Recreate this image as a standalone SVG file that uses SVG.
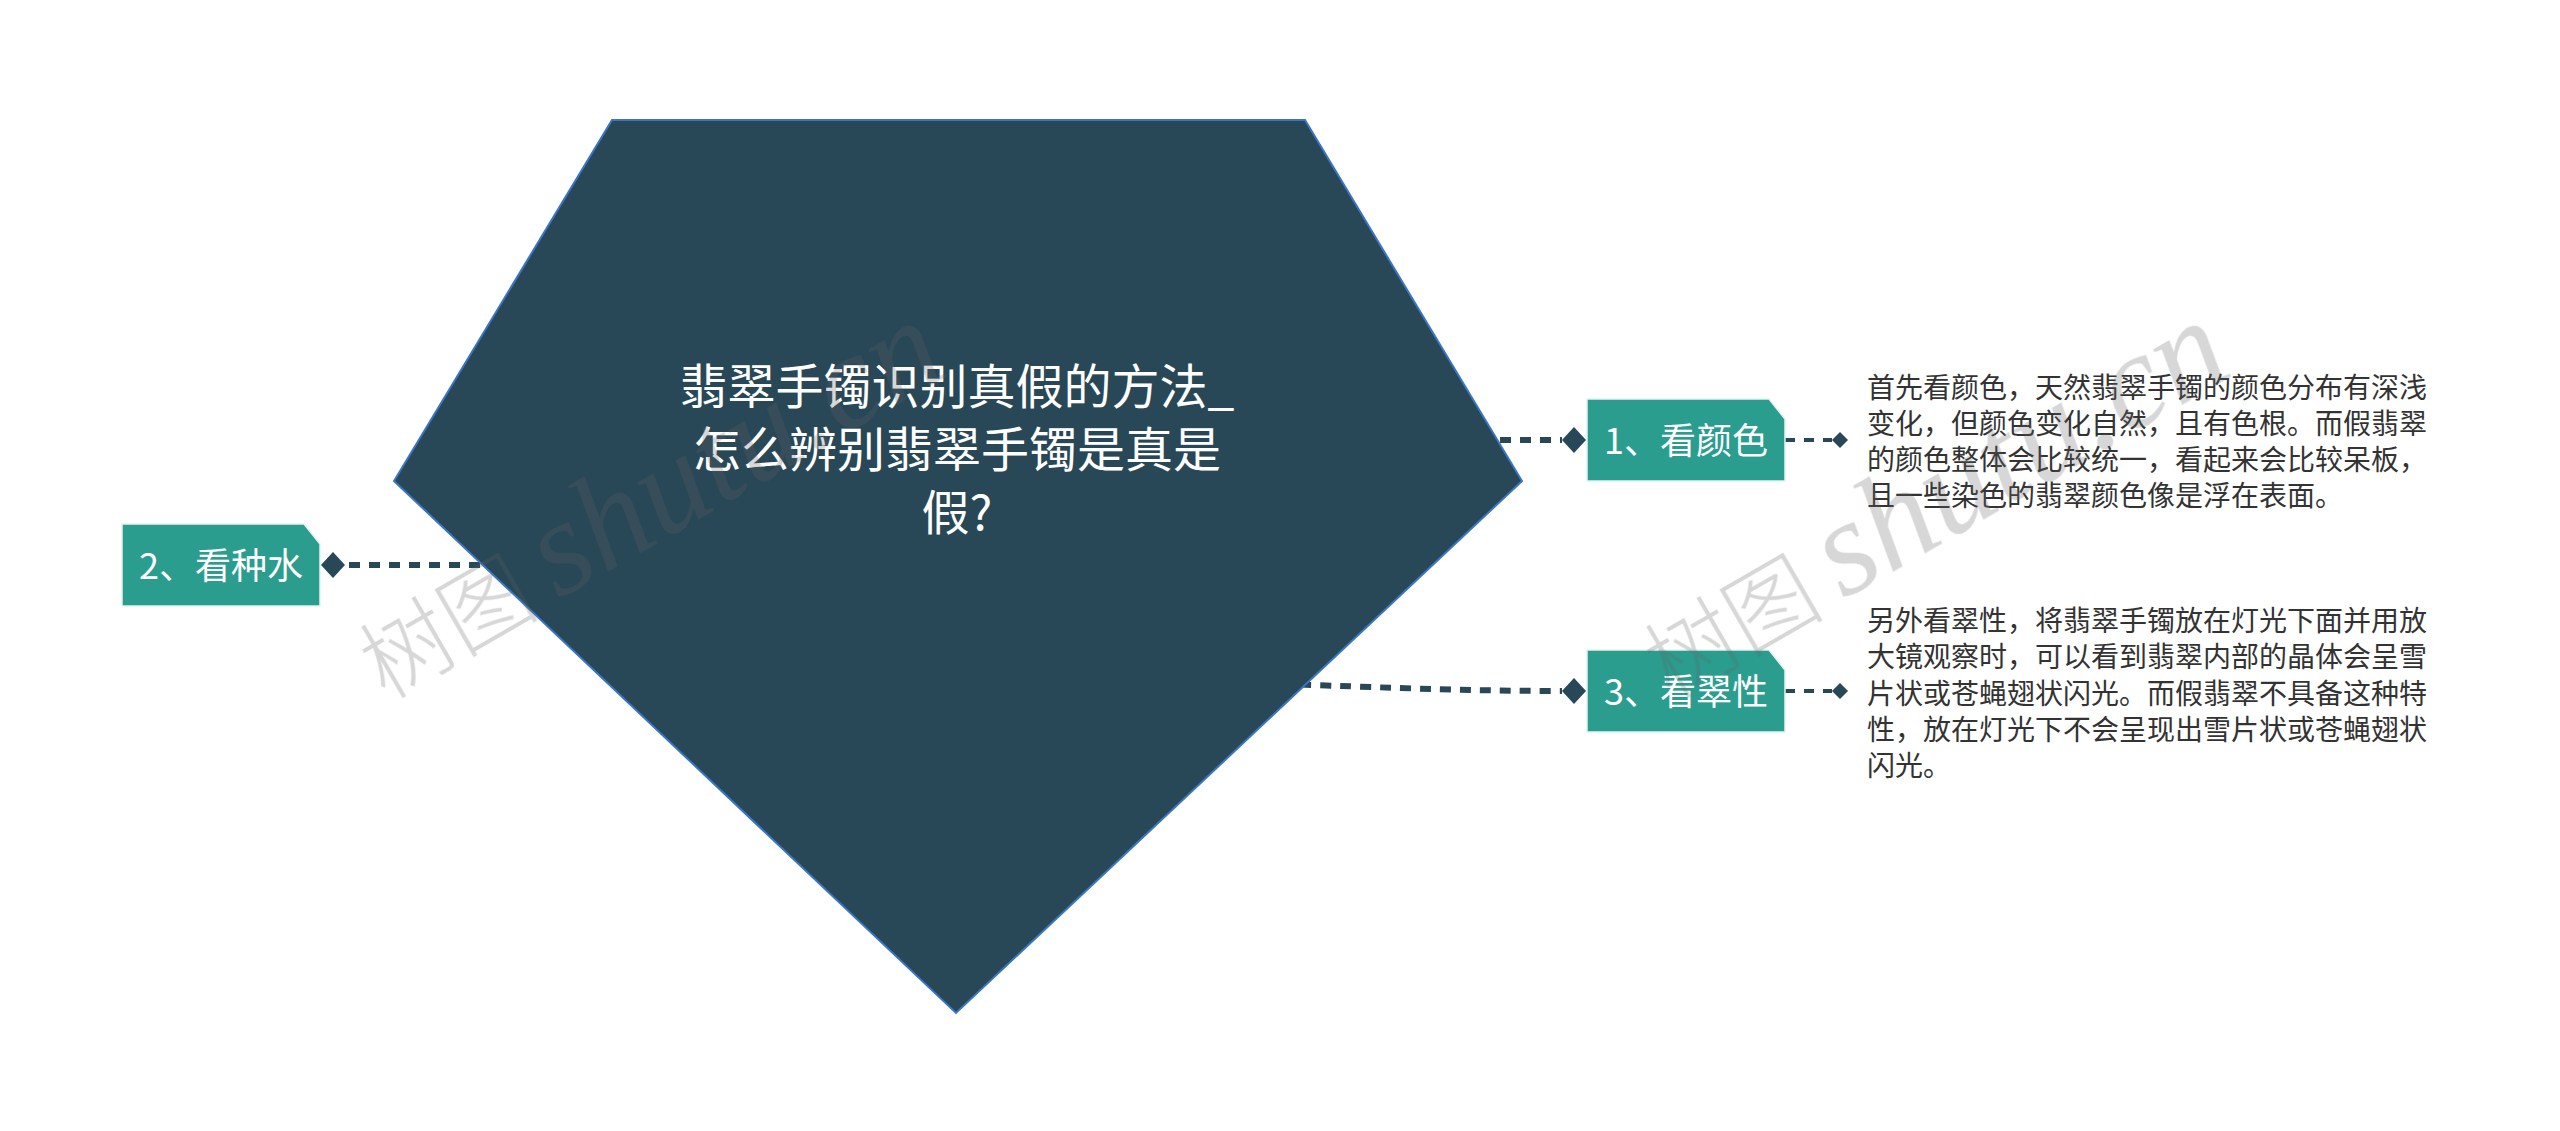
<svg xmlns="http://www.w3.org/2000/svg" xmlns:xlink="http://www.w3.org/1999/xlink" width="2560" height="1131" viewBox="0 0 2560 1131">
<style>
.conn{fill:none;stroke:#284757;stroke-width:6;stroke-dasharray:11 9}
.conn2{fill:none;stroke:#284757;stroke-width:4;stroke-dasharray:10 9}
.dia{fill:#284757}
.nodebox{fill:#2a9d8f;stroke:#e3f4f1;stroke-width:1.5}
.nodetxt{font-family:"Noto Sans CJK SC","Noto Sans",sans-serif;font-size:36px;fill:#ffffff;text-anchor:middle}
.title{font-family:"Noto Sans CJK SC","Noto Sans",sans-serif;font-size:48px;fill:#ffffff;text-anchor:middle}
.body{font-family:"Noto Sans CJK SC","Noto Sans",sans-serif;font-size:28px;fill:#333333}
.wm{fill:#666666;opacity:0.26}
.wmcjk{font-family:"Noto Sans CJK SC",sans-serif;font-size:90px;font-weight:300}
.wmlat{font-family:"Liberation Serif","Noto Sans CJK SC",serif;font-style:italic;font-size:135px}
</style>
<defs>
<path id="dl" d="M0,-13 L12,0 L0,13 L-12,0 Z"/>
<path id="ds" d="M0,-8 L8,0 L0,8 L-8,0 Z"/>
<path id="box" d="M0,0 H182 L198,20 V82 H0 Z"/>
</defs>
<rect width="2560" height="1131" fill="#ffffff"/>
<g id="connectors">
<path class="conn" d="M1380,440 H1562"/>
<path class="conn" d="M1200,681 C1350,686 1450,691 1562,691"/>
<path class="conn" d="M600,565 H345"/>
<path class="conn2" d="M1785,440 H1832"/>
<path class="conn2" d="M1785,691 H1832"/>
<use href="#dl" class="dia" x="1574" y="440"/>
<use href="#dl" class="dia" x="1574" y="691"/>
<use href="#dl" class="dia" x="333" y="565"/>
<use href="#ds" class="dia" x="1840" y="440"/>
<use href="#ds" class="dia" x="1840" y="691"/>
</g>
<g id="center">
<polygon points="612,120 1305,120 1522,481 956,1013 394,481" fill="#284757" stroke="#3a76c4" stroke-width="2"/>
<text class="title" x="957" y="404">翡翠手镯识别真假的方法_</text>
<text class="title" x="957" y="467">怎么辨别翡翠手镯是真是</text>
<text class="title" x="957" y="530">假?</text>
</g>
<g id="node1" transform="translate(1587,399)">
<use href="#box" class="nodebox"/>
<text class="nodetxt" x="99" y="55">1、看颜色</text>
</g>
<g id="node2" transform="translate(122,524)">
<use href="#box" class="nodebox"/>
<text class="nodetxt" x="99" y="55">2、看种水</text>
</g>
<g id="node3" transform="translate(1587,650)">
<use href="#box" class="nodebox"/>
<text class="nodetxt" x="99" y="55">3、看翠性</text>
</g>
<g id="note1">
<text class="body" x="1867" y="398">首先看颜色，天然翡翠手镯的颜色分布有深浅</text>
<text class="body" x="1867" y="434">变化，但颜色变化自然，且有色根。而假翡翠</text>
<text class="body" x="1867" y="470">的颜色整体会比较统一，看起来会比较呆板，</text>
<text class="body" x="1867" y="506">且一些染色的翡翠颜色像是浮在表面。</text>
</g>
<g id="note3">
<text class="body" x="1867" y="631">另外看翠性，将翡翠手镯放在灯光下面并用放</text>
<text class="body" x="1867" y="667">大镜观察时，可以看到翡翠内部的晶体会呈雪</text>
<text class="body" x="1867" y="704">片状或苍蝇翅状闪光。而假翡翠不具备这种特</text>
<text class="body" x="1867" y="740">性，放在灯光下不会呈现出雪片状或苍蝇翅状</text>
<text class="body" x="1867" y="776">闪光。</text>
</g>
<g id="watermark" class="wm">
<text transform="translate(385,700) rotate(-30)"><tspan class="wmcjk">树图</tspan><tspan class="wmlat" dx="20">shutu.cn</tspan></text>
<text transform="translate(1670,700) rotate(-30)"><tspan class="wmcjk">树图</tspan><tspan class="wmlat" dx="20">shutu.cn</tspan></text>
</g>
</svg>
